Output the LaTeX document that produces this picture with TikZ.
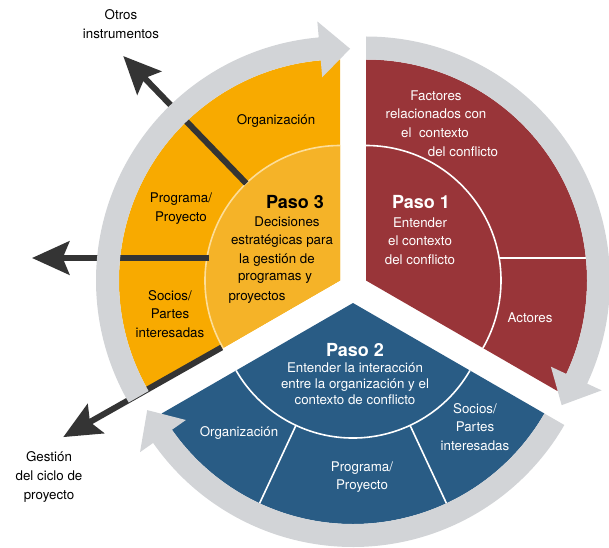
\documentclass[tikz,border=0pt]{standalone}
\usepackage{fontspec}
\setmainfont{TeX Gyre Heros}
\usetikzlibrary{arrows.meta}
\definecolor{p1}{RGB}{153,53,57}
\definecolor{p2}{RGB}{41,92,133}
\definecolor{p3}{RGB}{248,170,0}
\definecolor{p3in}{RGB}{245,179,40}
\definecolor{ring}{RGB}{210,212,215}
\definecolor{dk}{RGB}{52,52,52}

\begin{document}
\begin{tikzpicture}[x=0.75pt, y=0.75pt,
    lbl/.style={font=\fontsize{10}{14}\selectfont, align=center, inner sep=0pt, text=#1},
    lbl/.default=black,
    paso/.style={font=\fontsize{13.5}{16}\selectfont\bfseries, inner sep=0pt, text=#1},
    paso/.default=black,
    divline/.style={white, line width=1.2pt},
    exitarrow/.style={dk, line width=4.5pt, -{Stealth[length=28pt, width=25pt, inset=5pt]}},
]
\useasboundingbox (0,0) rectangle (609,547);

% === Paso 1 sector ===
\begin{scope}[shift={(366,266.5)}]
  \fill[p1] (0,0) -- (90:221) arc[start angle=90, end angle=-30, radius=221] -- cycle;
  \draw[divline] (90:135) arc[start angle=90, end angle=-30, radius=135];
  \draw[divline] (133.1,22.5) -- (219.9,22.5);
\end{scope}

% === Paso 2 sector ===
\begin{scope}[shift={(353,244)}]
  \fill[p2] (0,0) -- (330:221) arc[start angle=330, end angle=210, radius=221] -- cycle;
  \draw[divline] (330:135) arc[start angle=330, end angle=210, radius=135];
  \draw[divline] (245:135) -- (245:221);
  \draw[divline] (295:135) -- (295:221);
\end{scope}

% === Paso 3 sector ===
\begin{scope}[shift={(340,266.5)}]
  \fill[p3] (0,0) -- (210:221) arc[start angle=210, end angle=90, radius=221] -- cycle;
  \fill[p3in] (0,0) -- (210:135) arc[start angle=210, end angle=90, radius=135] -- cycle;
  \draw[divline, white!60!p3] (210:135) arc[start angle=210, end angle=90, radius=135];
  % dividers leaving the circle
  \coordinate (d1a) at (134:135);
  \coordinate (d1b) at (134:312);
  \coordinate (d2a) at (-131,22.5);
  \coordinate (d2b) at (-308,22.5);
  \coordinate (d3a) at (209.5:136);
  \coordinate (d3b) at (209.5:318);
  \draw[exitarrow] (d1a) -- (d1b);
  \draw[exitarrow] (d2a) -- (d2b);
  \draw[exitarrow] (d3a) -- (d3b);
\end{scope}

% === Gray cycle arrows ===
\begin{scope}[shift={(366,266.5)}]
  \fill[ring] (90:221) arc[start angle=90, end angle=-25, radius=221] -- (-25:204) -- (-32.5:232)
    -- (-25:260) -- (-25:244) arc[start angle=-25, end angle=90, radius=244] -- cycle;
\end{scope}
\begin{scope}[shift={(353,244)}]
  \fill[ring] (330:221) arc[start angle=330, end angle=215, radius=221] -- (215:204) -- (207.5:232)
    -- (215:260) -- (215:244) arc[start angle=215, end angle=330, radius=244] -- cycle;
\end{scope}
\begin{scope}[shift={(340,266.5)}]
  \fill[ring] (210:221) arc[start angle=210, end angle=95, radius=221] -- (95:204) -- (87.5:232)
    -- (95:260) -- (95:244) arc[start angle=95, end angle=210, radius=244] -- cycle;
\end{scope}

% === Outside labels ===
\node[lbl] (otros) at (121,523) {Otros\\instrumentos};
\node[lbl] (gestion) at (49,70) {Gestión\\del ciclo de\\proyecto};

% === Paso 3 texts ===
\node[lbl] (org3) at (276,426) {Organización};
\node[lbl] (prog3) at (181,338.5) {Programa/\\Proyecto};
\node[lbl] (soc3) at (170,233) {Socios/\\Partes\\interesadas};
\node[paso] (paso3) at (295,345) {Paso 3};
\node[lbl] (p3a) at (287,325) {Decisiones};
\node[lbl] (p3b) at (282,306) {estratégicas para};
\node[lbl] (p3c) at (277,287) {la gestión de};
\node[lbl] (p3d) at (275,269) {programas y};
\node[lbl] (p3e) at (257,250) {proyectos};

% === Paso 1 texts ===
\node[lbl=white] (fac1) at (436,451) {Factores};
\node[lbl=white] (fac2) at (436,433) {relacionados con};
\node[lbl=white] (fac3) at (435,414) {el\ \ contexto};
\node[lbl=white] (fac4) at (463,395) {del conflicto};
\node[paso=white] (paso1) at (421,345) {Paso 1};
\node[lbl=white] (p1txt) at (420,306) {Entender\\el contexto\\del conflicto};
\node[lbl=white] (act1) at (530,229) {Actores};

% === Paso 2 texts ===
\node[paso=white] (paso2) at (355,197) {Paso 2};
\node[lbl=white, font=\fontsize{10}{12}\selectfont] (p2txt) at (355,163) {Entender la interacción\\entre la organización y el\\contexto de conflicto};
\node[lbl=white] (soc2) at (475,120) {Socios/\\Partes\\interesadas};
\node[lbl=white] (prog2) at (362,70) {Programa/\\Proyecto};
\node[lbl=white] (org2) at (239,114) {Organización};

\end{tikzpicture}
\end{document}
